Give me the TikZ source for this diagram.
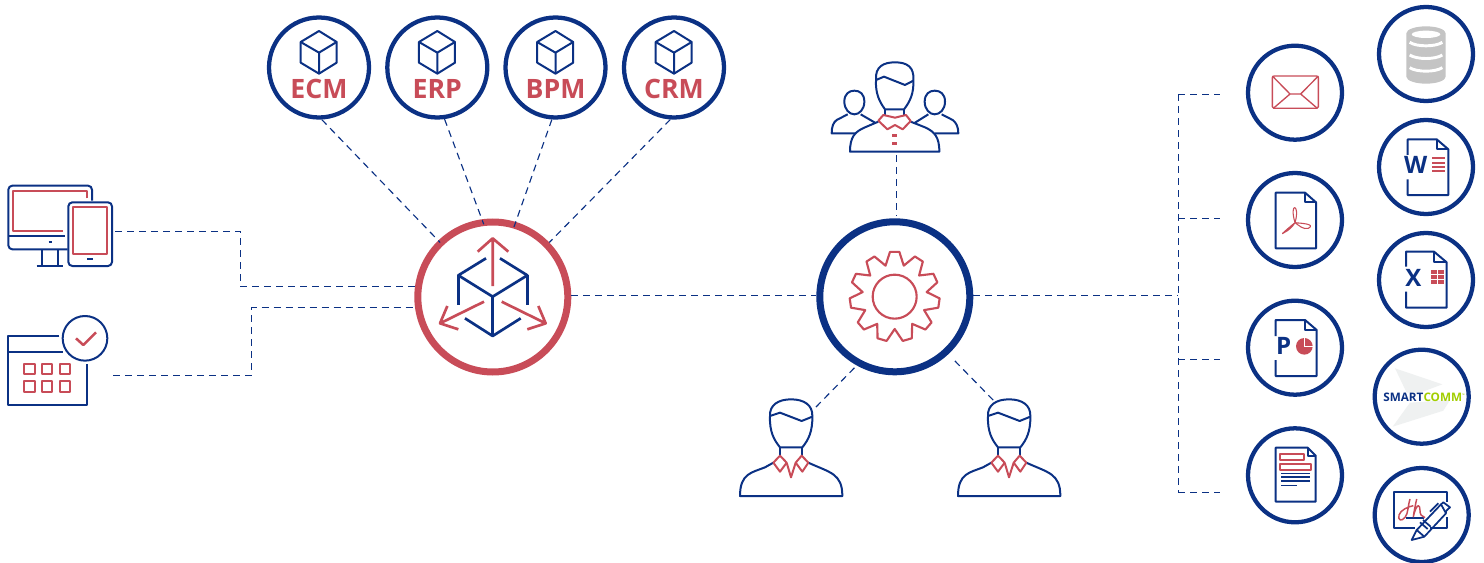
\documentclass[tikz,border=0pt]{standalone}
\usepackage{fontspec}
\setmainfont{Open Sans}
\usetikzlibrary{positioning}
\definecolor{navyline}{HTML}{0B3184}
\definecolor{roseline}{HTML}{C84C58}
\definecolor{limetext}{HTML}{A2CE00}
\definecolor{paleshape}{HTML}{EFF1F1}
\tikzset{
	thirds/.style={x=0.25pt,y=-0.25pt},
	navyicon/.style={thirds,draw=navyline,line width=1.5pt,line join=round},
	roseicon/.style={thirds,draw=roseline,line width=1.5pt,line join=round},
	smallring/.style={circle,draw=navyline,line width=3.2pt,fill=white,minimum size=70.5pt,inner sep=0pt},
	topring/.style={smallring,minimum size=75pt},
	hubring/.style={circle,line width=5.25pt,fill=white,minimum size=112.5pt,inner sep=0pt},
	iconbox/.style={inner sep=0pt,outer sep=0pt},
	link/.style={draw=navyline,line width=0.85pt,dash pattern=on 5.2pt off 3.8pt},
	moduletext/.style={text=roseline,font=\fontsize{20}{20}\selectfont\bfseries},
	doctext/.style={text=navyline,inner sep=0pt,font=\fontsize{18}{18}\selectfont\bfseries},
	cubeicon/.pic={
		\draw[navyicon] (0,-63) -- (53,-30) -- (53,32) -- (0,65) -- (-55,32) -- (-55,-30) -- cycle;
		\draw[navyicon] (-55,-30) -- (0,2) -- (53,-30) (0,2) -- (0,65);
	},
	personicon/.pic={
		\draw[navyicon] (120,78) .. controls (118,45) and (145,28) .. (183,28) .. controls (222,28) and (248,45) .. (247,78)
			.. controls (248,125) and (235,150) .. (217,172) -- (150,172) .. controls (132,150) and (118,125) .. (120,78) -- cycle;
		\draw[navyicon] (120,78) -- (150,68) -- (215,93) -- (247,80);
		\draw[navyicon] (150,172) -- (150,197) (217,172) -- (217,197);
		\draw[navyicon] (130,218) -- (105,232) .. controls (65,248) and (30,250) .. (30,318) -- (337,318)
			.. controls (337,250) and (300,248) .. (235,218);
		\draw[roseicon] (150,197) -- (130,218) -- (150,245) -- (170,218) -- cycle;
		\draw[roseicon] (215,197) -- (235,218) -- (217,245) -- (197,218) -- cycle;
		\draw[roseicon] (170,218) -- (183,262) -- (197,218);
	},
}
\begin{document}
\begin{tikzpicture}[x=0.75pt,y=-0.75pt]
	\useasboundingbox (0,0) rectangle (1484,563);

	\node[hubring,draw=roseline] (hubred) at (492.8,297) {};
	\node[hubring,draw=navyline] (hubblue) at (894.8,296.8) {};

	% modules on top
	\foreach \name/\txt/\cx in {ecm/ECM/319,erp/ERP/437.3,bpm/BPM/555.5,crm/CRM/674}{
		\node[topring] (\name) at (\cx,67.5) {};
		\pic at (\cx,52) {cubeicon};
		\node[moduletext] (\name txt) at (\cx,88.7) {\txt};
	}

	% right hand rings
	\node[smallring] (mail) at (1295,92.7) {};
	\node[smallring] (pdf) at (1295,220) {};
	\node[smallring] (ppt) at (1295,347.7) {};
	\node[smallring] (doc) at (1295,475.3) {};
	\node[smallring] (db) at (1426,54) {};
	\node[smallring] (word) at (1426,167) {};
	\node[smallring] (excel) at (1426,280) {};
	\node[smallring] (smart) at (1421.7,396.7) {};
	\node[smallring] (sign) at (1421.7,515) {};

	% icon areas, only there to hang the links on
	\node[iconbox,minimum width=82.5pt,minimum height=80pt] (devices) at (60,231.3) {};
	\node[iconbox,minimum width=84pt,minimum height=80pt] (calendar) at (57,375.3) {};
	\node[iconbox,minimum width=100pt,minimum height=70.5pt] (team) at (896.7,108) {};
	\coordinate (userleft) at (815,408);
	\coordinate (userright) at (995,402);

	% links
	\coordinate (busjoint) at (1178.3,295.3);
	\draw[link] (devices.east) -- ++(125.3,0) |- (hubred.172.3);
	\draw[link] (calendar.east) -- ++(138.3,0) |- (hubred.188);
	\draw[link] (hubred.east |- busjoint) -- (hubblue.west |- busjoint);
	\draw[link,shorten >=-2pt] (ecm.-87) -- (hubred.134);
	\draw[link,shorten >=-4pt] (erp.-82) -- (hubred.98.6);
	\draw[link,shorten >=-4pt] (bpm.-94) -- (hubred.73);
	\draw[link] (crm.-94.5) -- (hubred.44);
	\draw[link,shorten >=2pt] (team.south) -- (team.south |- hubblue.north);
	\draw[link,shorten <=2.5pt] (hubblue.-119) -- (userleft);
	\draw[link,shorten <=7pt] (hubblue.-47) -- (userright);
	\draw[link] (hubblue.east |- busjoint) -- (busjoint);
	\foreach \name/\y in {mail/94.3,pdf/218.3,ppt/359.3,doc/492.3}{
		\coordinate (bus\name) at (1178.3,\y);
		\draw[link,shorten >=19.5pt] (bus\name) -- (\name.west |- bus\name);
	}
	\draw[link] (busmail) -- (busdoc);

	% devices and calendar
	\begin{scope}[shift={(0,170)},thirds]
		\draw[navyicon,rounded corners=3pt] (276,92) -- (276,47) -- (25,47) -- (25,238) -- (203,238);
		\draw[navyicon] (25,197) -- (195,197) (125,238) -- (125,288) (175,238) -- (175,288) (110,288) -- (190,288);
		\draw[navyicon] (146,217) -- (155,217);
		\draw[roseicon] (262,85) -- (262,62) -- (40,62) -- (40,183) -- (190,183);
		\draw[navyicon,rounded corners=3pt] (205,97) rectangle (336,288);
		\draw[roseicon] (220,112) rectangle (322,253);
		\draw[navyicon] (262,267) -- (280,267);
		\draw[navyicon] (178,497) -- (25,497) -- (25,705) -- (260,705) -- (260,583);
		\draw[navyicon] (25,547) -- (190,547);
		\draw[navyicon] (255,505) circle[radius=67];
		\draw[roseicon,line width=1.9pt] (228,505) -- (250,525) -- (288,487);
		\foreach \sx in {73,126,180}
			\foreach \sy in {581,634}
				\draw[roseicon] (\sx,\sy) rectangle ++(31,31);
	\end{scope}

	% cube with arrows
	\begin{scope}[shift={(400,200)},thirds]
		\draw[navyicon,line width=2pt] (258,175) -- (175,226) -- (278,290) -- (382,226) -- (300,175);
		\draw[navyicon,line width=2pt] (175,226) -- (175,316) (382,226) -- (382,316) (278,290) -- (278,408);
		\draw[navyicon,line width=2pt] (195,355) -- (278,408) -- (362,355);
		\draw[roseicon,line width=2pt] (278,258) -- (278,115) (233,155) -- (278,115) -- (325,155);
		\draw[roseicon,line width=2pt] (252,305) -- (120,370) (142,318) -- (120,370) -- (175,388);
		\draw[roseicon,line width=2pt] (305,305) -- (437,370) (415,318) -- (437,370) -- (382,388);
	\end{scope}

	% gear and team
	\begin{scope}[shift={(800,50)},thirds]
		\draw[roseicon,line width=1.6pt] (284,740) circle[radius=66];
		\draw[roseicon,line width=1.6pt,shift={(284,740)}] (270-16.4:97)
			\foreach \k in {0,...,10}{ -- (\k*360/11+270-16.4:97) -- (\k*360/11+270-6:135) -- (\k*360/11+270+6:135) } -- cycle;
		\draw[navyicon] (228,90) .. controls (225,50) and (250,37) .. (285,37) .. controls (320,37) and (343,50) .. (340,90)
			.. controls (342,130) and (330,155) .. (312,178) -- (255,178) .. controls (238,155) and (226,130) .. (228,90) -- cycle;
		\draw[navyicon] (228,90) -- (252,80) -- (315,105) -- (340,92);
		\draw[navyicon] (255,178) -- (255,197) (312,178) -- (312,197);
		\draw[navyicon] (235,215) -- (195,232) .. controls (165,245) and (150,260) .. (150,305) -- (418,305)
			.. controls (418,260) and (403,245) .. (375,232) -- (332,215);
		\draw[roseicon] (250,195) -- (285,203) -- (318,195) -- (332,213) -- (308,238) -- (285,225) -- (262,238) -- (235,212) -- cycle;
		\draw[roseicon,line width=1.9pt] (277,256) -- (290,256) (277,280) -- (290,280);
		\draw[navyicon] (133,155) .. controls (133,132) and (147,122) .. (163,122) .. controls (180,122) and (193,132) .. (193,155)
			.. controls (193,178) and (178,193) .. (163,193) .. controls (148,193) and (133,178) .. (133,155) -- cycle;
		\draw[navyicon] (143,193) -- (110,210) .. controls (100,217) and (95,230) .. (95,250) -- (165,250) (182,193) -- (225,218);
		\draw[navyicon] (374,155) .. controls (374,132) and (388,122) .. (404,122) .. controls (421,122) and (435,132) .. (435,155)
			.. controls (435,178) and (420,193) .. (404,193) .. controls (389,193) and (374,178) .. (374,155) -- cycle;
		\draw[navyicon] (425,193) -- (458,210) .. controls (468,217) and (475,230) .. (475,250) -- (405,250) (385,193) -- (345,218);
	\end{scope}
	\pic at (730,390) {personicon};
	\pic at (948,390) {personicon};

	% icons in the top part of the right hand side
	\begin{scope}[shift={(1240,0)},thirds]
		\draw[roseicon,line width=1pt,rounded corners=1.2pt] (97,228) rectangle (235,325);
		\draw[roseicon,line width=1pt] (97,228) -- (150,282) -- (182,282) -- (235,228) (100,325) -- (150,282) (182,282) -- (232,325);
		\fill[black!23] (499,100) arc[start angle=180,end angle=360,x radius=59,y radius=21] -- (617,230) arc[start angle=0,end angle=180,x radius=59,y radius=21] -- cycle;
		\fill[white] (558,103) ellipse[x radius=43,y radius=11];
		\foreach \cy in {127,165,203}
			\draw[white,line width=2.2pt] (509,\cy) .. controls (530,\cy+14) and (586,\cy+14) .. (607,\cy);
		\draw[navyicon] (503,465) -- (503,418) -- (590,418) -- (625,448) -- (625,585) -- (503,585) -- (503,538);
		\draw[navyicon] (590,418) -- (590,448) -- (625,448);
		\node[doctext] (wordletter) at (527,495) {W};
		\foreach \cy in {474,488,500,513}
			\draw[roseicon] (576,\cy) -- (615,\cy);
		\draw[navyicon] (498,800) -- (498,755) -- (582,755) -- (620,787) -- (620,923) -- (498,923) -- (498,875);
		\draw[navyicon] (582,755) -- (582,787) -- (620,787);
		\node[doctext] (excelletter) at (520,835) {X};
		\foreach \sx in {573,594}
			\foreach \sy in {810,825,840}
				\fill[roseline] (\sx,\sy) rectangle ++(18,11);
		\draw[navyicon] (107,578) -- (195,578) -- (228,607) -- (228,745) -- (107,745) -- cycle;
		\draw[navyicon] (195,578) -- (195,607) -- (228,607);
		\draw[roseicon,line width=0.8pt] (165,668) .. controls (146,605) and (182,610) .. (165,668)
			.. controls (185,670) and (228,672) .. (205,685) .. controls (190,690) and (175,675) .. (165,668)
			.. controls (150,680) and (115,710) .. (132,698) .. controls (145,692) and (158,680) .. (165,668) -- cycle;
	\end{scope}

	% icons in the lower part of the right hand side
	\begin{scope}[shift={(1240,280)},thirds]
		\draw[navyicon] (107,168) -- (107,120) -- (195,120) -- (230,150) -- (230,288) -- (107,288) -- (107,240);
		\draw[navyicon] (195,120) -- (195,150) -- (230,150);
		\node[doctext] (pptletter) at (131,197) {P};
		\fill[roseline] (193,199) circle[radius=25];
		\draw[white,line width=0.8pt] (193,170) -- (193,199) -- (222,199);
		\fill[paleshape] (465,265) -- (607,313) -- (540,338) -- (500,338) -- cycle;
		\fill[paleshape] (458,440) -- (610,392) -- (630,360) -- (510,368) -- cycle;
		\node[inner sep=0pt] (smartlogo) at (552,353) {\fontsize{8.8}{8.8}\selectfont\bfseries\textcolor{navyline}{SMART}\textcolor{limetext}{COMM}\raisebox{0.45em}{\textcolor{limetext}{\fontsize{2.5}{2.5}\selectfont ™}}};
		\draw[navyicon] (107,503) -- (203,503) -- (227,527) -- (227,665) -- (107,665) -- cycle;
		\draw[navyicon] (203,503) -- (203,527) -- (227,527);
		\draw[roseicon] (121,521) rectangle (192,541) (121,551) rectangle (212,571);
		\foreach \cy in {580,591,603}
			\draw[navyicon,line width=1.2pt] (123,\cy) -- (210,\cy);
		\draw[navyicon,line width=1.2pt] (123,617) -- (170,617);
		\draw[navyicon] (620,665) -- (620,637) -- (463,637) -- (463,743) -- (525,743) (570,743) -- (620,743) -- (620,712);
		\draw[navyicon,line width=1.6pt] (497,715) -- (553,715);
		\draw[roseicon,line width=1.1pt] (510,657) .. controls (503,680) and (505,700) .. (495,712) .. controls (485,725) and (473,722) .. (477,705)
			.. controls (481,690) and (505,680) .. (520,677);
		\draw[roseicon,line width=1.1pt] (530,657) .. controls (526,675) and (522,695) .. (520,710) .. controls (523,695) and (530,677) .. (535,677)
			.. controls (542,677) and (538,700) .. (543,705) -- (555,713);
		\draw[navyicon,line width=1.3pt] (515,780) -- (530,750) -- (603,673) -- (618,700) -- (553,770) -- cycle;
		\draw[navyicon,line width=1.3pt] (530,750) -- (553,770) (540,727) -- (563,747) (549,720) -- (572,740);
		\draw[navyicon,line width=1.3pt] (603,673) -- (610,667) -- (630,682) -- (618,693) -- (618,700) (570,695) -- (595,670);
	\end{scope}
\end{tikzpicture}
\end{document}
